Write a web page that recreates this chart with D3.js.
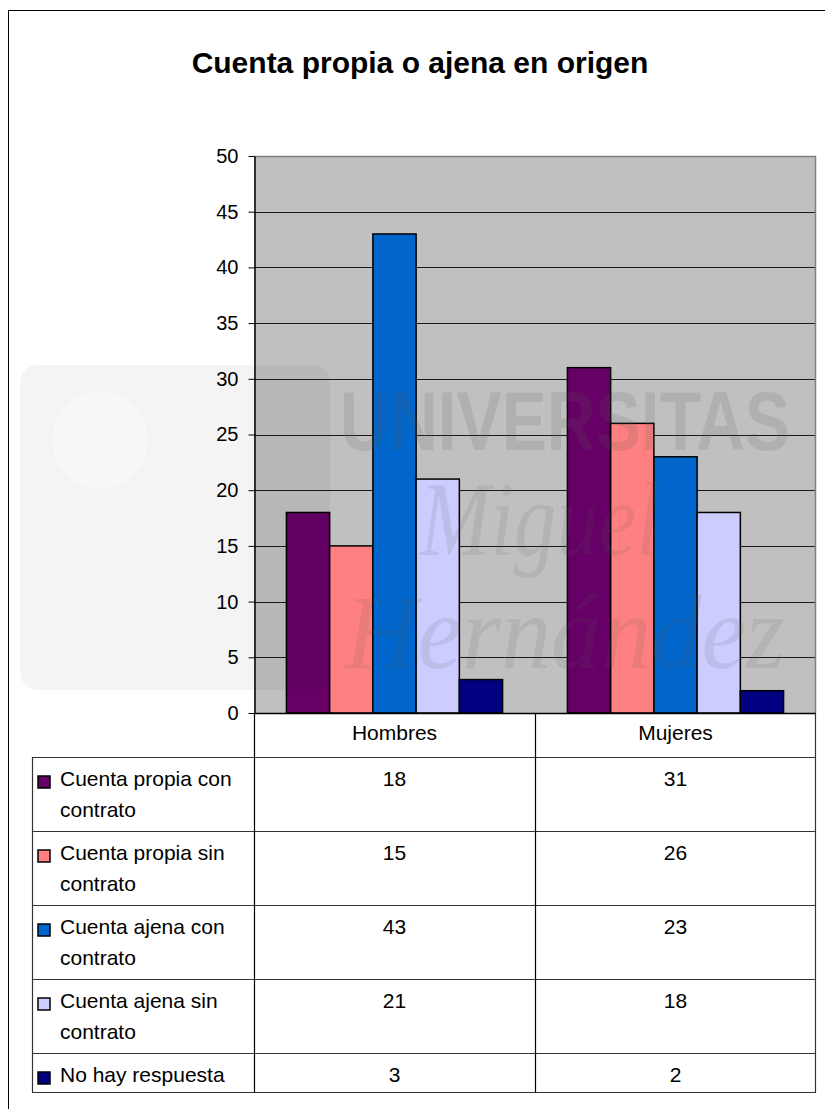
<!DOCTYPE html>
<html>
<head>
<meta charset="utf-8">
<script src="https://cdn.jsdelivr.net/npm/d3@7"></script>
<style>
  html, body { margin: 0; padding: 0; background: #fff; }
  svg { display: block; font-family: "Liberation Sans", Arial, sans-serif; }
</style>
</head>
<body>
<svg id="chart" width="825" height="1109"></svg>
<script>
// ---- data ----
const title = "Cuenta propia o ajena en origen";
const categories = ["Hombres", "Mujeres"];
const seriesNames = [
  "Cuenta propia con contrato",
  "Cuenta propia sin contrato",
  "Cuenta ajena con contrato",
  "Cuenta ajena sin contrato",
  "No hay respuesta"
];
const seriesColors = ["#660066", "#FF8080", "#0066CC", "#CCCCFF", "#000080"];
const hombresValues = [18, 15, 43, 21, 3];
const mujeresValues = [31, 26, 23, 18, 2];
const yTicks = [0, 5, 10, 15, 20, 25, 30, 35, 40, 45, 50];
const watermark = ["UNIVERSITAS", "Miguel", "Hernández"];

const valuesByCategory = [hombresValues, mujeresValues];

// ---- layout ----
const svg = d3.select("#chart");
const plot = { left: 254, right: 816, top: 156, bottom: 713 };
const tableLeft = 32;
const FONT = 21;

// outer chart border
svg.append("rect")
  .attr("x", 8.5).attr("y", 10.5)
  .attr("width", 840).attr("height", 1120)
  .attr("fill", "#fff").attr("stroke", "#000").attr("stroke-width", 1);

// title
svg.append("text")
  .attr("x", 420).attr("y", 73)
  .attr("text-anchor", "middle")
  .attr("font-size", 30).attr("font-weight", "bold")
  .attr("fill", "#000")
  .text(title);

// scales
const x0 = d3.scaleBand().domain(categories).range([plot.left, plot.right]).paddingInner(0).paddingOuter(0);
const x1 = d3.scaleBand().domain(seriesNames).range([0, x0.bandwidth()]).paddingInner(0).paddingOuter(0.75);
const y = d3.scaleLinear().domain([0, 50]).range([plot.bottom, plot.top]);

// plot area background
svg.append("rect")
  .attr("x", plot.left).attr("y", plot.top)
  .attr("width", plot.right - plot.left).attr("height", plot.bottom - plot.top)
  .attr("fill", "#C0C0C0");

// gridlines
svg.append("g").selectAll("line")
  .data(yTicks.filter(t => t > 0 && t < 50))
  .join("line")
  .attr("x1", plot.left).attr("x2", plot.right)
  .attr("y1", d => Math.round(y(d)) + 0.5).attr("y2", d => Math.round(y(d)) + 0.5)
  .attr("stroke", "#1a1a1a").attr("stroke-width", 1);

// plot border (top, right)
svg.append("path")
  .attr("d", `M${plot.left},${plot.top + 0.5}H${plot.right - 0.5}V${plot.bottom}`)
  .attr("fill", "none").attr("stroke", "#808080").attr("stroke-width", 1.5);

// bars
const groups = svg.append("g").selectAll("g")
  .data(categories)
  .join("g")
  .attr("transform", d => `translate(${x0(d)},0)`);

groups.selectAll("rect")
  .data((c, ci) => seriesNames.map((s, si) => ({ s, si, v: valuesByCategory[ci][si] })))
  .join("rect")
  .attr("x", d => x1(d.s))
  .attr("width", x1.bandwidth())
  .attr("y", d => y(d.v))
  .attr("height", d => y(0) - y(d.v))
  .attr("fill", d => seriesColors[d.si])
  .attr("stroke", "#000").attr("stroke-width", 1.5);

// watermark (faint)
const wm = svg.append("g").attr("pointer-events", "none");
wm.append("rect")
  .attr("x", 20).attr("y", 365).attr("width", 310).attr("height", 325).attr("rx", 18)
  .attr("fill", "#000").attr("fill-opacity", 0.045);
wm.append("circle")
  .attr("cx", 100).attr("cy", 440).attr("r", 48)
  .attr("fill", "#fff").attr("fill-opacity", 0.35);
wm.append("text")
  .attr("x", 340).attr("y", 450)
  .attr("font-size", 84).attr("font-weight", "bold")
  .attr("textLength", 450).attr("lengthAdjust", "spacingAndGlyphs")
  .attr("fill", "#606060").attr("fill-opacity", 0.16)
  .text(watermark[0]);
wm.append("text")
  .attr("x", 420).attr("y", 555)
  .attr("font-family", "'Liberation Serif', 'DejaVu Serif', serif")
  .attr("font-style", "italic")
  .attr("font-size", 105)
  .attr("textLength", 240).attr("lengthAdjust", "spacingAndGlyphs")
  .attr("fill", "#606060").attr("fill-opacity", 0.13)
  .text(watermark[1]);
wm.append("text")
  .attr("x", 345).attr("y", 668)
  .attr("font-family", "'Liberation Serif', 'DejaVu Serif', serif")
  .attr("font-style", "italic")
  .attr("font-size", 105)
  .attr("textLength", 440).attr("lengthAdjust", "spacingAndGlyphs")
  .attr("fill", "#606060").attr("fill-opacity", 0.13)
  .text(watermark[2]);

// y axis
const yAxis = d3.axisLeft(y).tickValues(yTicks).tickSize(6).tickPadding(10).tickSizeOuter(0);
const ya = svg.append("g")
  .attr("transform", `translate(${plot.left + 0.5},0)`)
  .call(yAxis);
ya.select(".domain").attr("stroke", "#000").attr("stroke-width", 1.5);
ya.selectAll(".tick line").attr("stroke", "#000");
ya.selectAll(".tick text")
  .attr("font-size", 20).attr("font-family", "'Liberation Sans', Arial, sans-serif")
  .attr("fill", "#000");

// ---- data table ----
const lineH = 31;
const tmp = svg.append("text").attr("font-size", FONT).attr("visibility", "hidden");
function wrap(str, maxW) {
  const words = str.split(" ");
  const lines = [];
  let cur = "";
  words.forEach(w => {
    const test = cur ? cur + " " + w : w;
    tmp.text(test);
    if (tmp.node().getComputedTextLength() > maxW && cur) {
      lines.push(cur); cur = w;
    } else cur = test;
  });
  if (cur) lines.push(cur);
  return lines;
}
const labelLines = seriesNames.map(s => wrap(s, 188));
tmp.remove();

const headerTop = plot.bottom, headerH = 44;
let rowTops = [];
let yy = headerTop + headerH;
labelLines.forEach(l => { rowTops.push(yy); yy += 4 + 35 * l.length; });
const tableBottom = yy;

const tbl = svg.append("g");
// category header labels
tbl.selectAll("text.cat")
  .data(categories)
  .join("text")
  .attr("class", "cat")
  .attr("x", d => x0(d) + x0.bandwidth() / 2)
  .attr("y", headerTop + 27)
  .attr("text-anchor", "middle")
  .attr("font-size", FONT).attr("fill", "#000")
  .text(d => d);

// horizontal lines
tbl.append("line")
  .attr("x1", plot.left).attr("x2", plot.right)
  .attr("y1", plot.bottom + 0.5).attr("y2", plot.bottom + 0.5)
  .attr("stroke", "#000").attr("stroke-width", 1.5);
tbl.selectAll("line.h")
  .data(rowTops.concat([tableBottom]))
  .join("line")
  .attr("class", "h")
  .attr("x1", tableLeft).attr("x2", plot.right)
  .attr("y1", d => d + 0.5).attr("y2", d => d + 0.5)
  .attr("stroke", "#333").attr("stroke-width", 1.2);
// vertical lines
tbl.append("line")
  .attr("x1", tableLeft + 0.5).attr("x2", tableLeft + 0.5)
  .attr("y1", rowTops[0]).attr("y2", tableBottom + 0.5)
  .attr("stroke", "#333").attr("stroke-width", 1.2);
tbl.append("line")
  .attr("x1", plot.left + 0.5).attr("x2", plot.left + 0.5)
  .attr("y1", plot.bottom).attr("y2", tableBottom + 0.5)
  .attr("stroke", "#000").attr("stroke-width", 1.2);
tbl.selectAll("line.v")
  .data(categories.slice(1))
  .join("line")
  .attr("class", "v")
  .attr("x1", d => x0(d) + 0.5).attr("x2", d => x0(d) + 0.5)
  .attr("y1", plot.bottom).attr("y2", tableBottom + 0.5)
  .attr("stroke", "#000").attr("stroke-width", 1.2);
tbl.append("line")
  .attr("x1", plot.right - 0.5).attr("x2", plot.right - 0.5)
  .attr("y1", plot.bottom).attr("y2", tableBottom + 0.5)
  .attr("stroke", "#333").attr("stroke-width", 1.2);

// rows
const rows = tbl.selectAll("g.row")
  .data(seriesNames.map((s, i) => ({ s, i, top: rowTops[i], lines: labelLines[i] })))
  .join("g").attr("class", "row");

rows.append("rect")
  .attr("x", 38).attr("y", d => d.top + 19)
  .attr("width", 12).attr("height", 12)
  .attr("fill", d => seriesColors[d.i])
  .attr("stroke", "#000").attr("stroke-width", 1.5);

rows.each(function (d) {
  const t = d3.select(this).append("text")
    .attr("font-size", FONT).attr("fill", "#000");
  d.lines.forEach((ln, k) => {
    t.append("tspan").attr("x", 60).attr("y", d.top + 29 + k * lineH).text(ln);
  });
});

rows.selectAll("text.val")
  .data(d => categories.map((c, ci) => ({ c, v: valuesByCategory[ci][d.i], top: d.top })))
  .join("text")
  .attr("class", "val")
  .attr("x", d => x0(d.c) + x0.bandwidth() / 2)
  .attr("y", d => d.top + 29)
  .attr("text-anchor", "middle")
  .attr("font-size", FONT).attr("fill", "#000")
  .text(d => d.v);
</script>
</body>
</html>
